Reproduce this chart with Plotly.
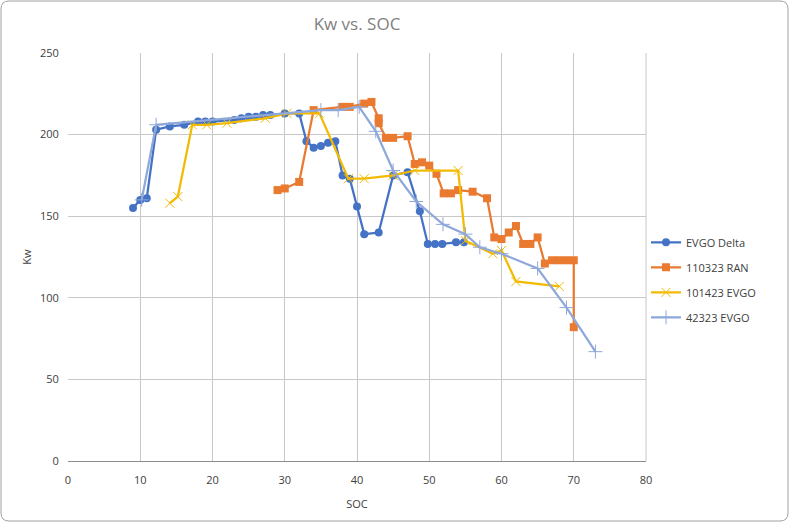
import plotly.graph_objects as go

# EVGO Delta
delta_soc = [9, 10, 10.9, 12.2, 14.1, 16.1, 18, 19, 20, 23, 24, 25, 26, 27, 28, 30, 32,
             33, 34, 35, 36, 37, 38, 39, 40, 41, 43, 45, 47, 48.7, 49.8, 50.8, 51.8, 53.7, 54.8]
delta_kw = [155, 160, 161, 203, 205, 206, 208, 208, 208, 209, 210, 211, 211, 212, 212, 213, 213,
            196, 192, 193, 195, 196, 175, 173, 156, 139, 140, 175, 177, 153, 133, 133, 133, 134, 134]

# 110323 RAN
ran_soc = [29, 30, 32, 34, 38, 39, 41, 42, 43, 43, 44, 45, 47, 48, 49, 50, 51, 52, 53, 54, 56, 58,
           59, 60, 61, 62, 63, 64, 65, 66, 67, 68, 69, 70, 70]
ran_kw = [166, 167, 171, 215, 217, 217, 219, 220, 210, 207, 198, 198, 199, 182, 183, 181, 176, 164,
          164, 166, 165, 161, 137, 136, 140, 144, 133, 133, 137, 121, 123, 123, 123, 123, 82]

# 101423 EVGO
e1014_soc = [14.1, 15.2, 17.2, 19.2, 22, 27.3, 30.3, 34.8, 38.8, 41, 45, 48, 54, 55, 58.8, 60, 62, 68]
e1014_kw = [158, 162, 206, 206, 207, 210, 213, 213, 173, 173, 175, 178, 178, 135, 127, 129, 110, 107]

# 42323 EVGO
e423_soc = [10.2, 12.2, 35, 37.4, 40.3, 42.6, 45, 48.2, 51.9, 55, 57, 60, 65, 69, 73]
e423_kw = [160, 206, 215, 215, 217, 202, 178, 159, 145, 139, 131, 127, 118, 94, 67]

x_ticks = [0, 10, 20, 30, 40, 50, 60, 70, 80]
y_ticks = [0, 50, 100, 150, 200, 250]

fig = go.Figure()
fig.add_trace(go.Scatter(x=delta_soc, y=delta_kw, name="EVGO Delta", mode="lines+markers",
                         legendgroup="a",
                         line=dict(color="#4472C4", width=2.25),
                         marker=dict(symbol="circle", size=8, color="#4472C4")))
fig.add_trace(go.Scatter(x=ran_soc, y=ran_kw, name="110323 RAN", mode="lines+markers",
                         legendgroup="b",
                         line=dict(color="#E97A2F", width=2.25),
                         marker=dict(symbol="square", size=8, color="#E97A2F")))
fig.add_trace(go.Scatter(x=e1014_soc, y=e1014_kw, name="101423 EVGO", mode="lines+markers",
                         legendgroup="c",
                         line=dict(color="#F2BA00", width=2.25),
                         marker=dict(symbol="x-thin-open", size=9, color="#F2BA00",
                                     line=dict(color="#F2BA00", width=1))))
fig.add_trace(go.Scatter(x=e423_soc, y=e423_kw, name="42323 EVGO", mode="lines+markers",
                         legendgroup="d",
                         line=dict(color="#8FA8DA", width=2.25),
                         marker=dict(symbol="cross-thin-open", size=10, color="#8FA8DA",
                                     line=dict(color="#8FA8DA", width=1))))

L, R, T, B = 68, 144, 53, 62
W, H = 790, 523
pw, ph = W - L - R, H - T - B

def px(x):
    return (x - L) / pw

def py(y):
    return (H - B - y) / ph

x0, x1, y0, y1, r = 1, 788, 1, 521, 8
path = (f"M {px(x0 + r)} {py(y0)} L {px(x1 - r)} {py(y0)} "
        f"Q {px(x1)} {py(y0)} {px(x1)} {py(y0 + r)} L {px(x1)} {py(y1 - r)} "
        f"Q {px(x1)} {py(y1)} {px(x1 - r)} {py(y1)} L {px(x0 + r)} {py(y1)} "
        f"Q {px(x0)} {py(y1)} {px(x0)} {py(y1 - r)} L {px(x0)} {py(y0 + r)} "
        f"Q {px(x0)} {py(y0)} {px(x0 + r)} {py(y0)} Z")

fig.update_layout(
    width=W, height=H,
    margin=dict(l=L, r=R, t=T, b=B),
    paper_bgcolor="white", plot_bgcolor="white",
    font=dict(family="Open Sans, Liberation Sans, sans-serif", size=11, color="#404040"),
    title=dict(text="Kw vs. SOC", x=0.5, xref="paper", xanchor="center", y=1 - 24 / H, yanchor="middle",
               font=dict(size=17, color="#7F7F7F")),
    xaxis=dict(range=[0, 80], tickvals=x_ticks, showgrid=True, gridcolor="#C8C8C8", gridwidth=1,
               zeroline=False, showline=True, linecolor="#8C8C8C", linewidth=1,
               ticks="outside", ticklen=9, tickcolor="rgba(0,0,0,0)",
               mirror=False, title=dict(text="SOC", font=dict(size=11, color="#404040"), standoff=14),
               tickfont=dict(size=11, color="#404040")),
    yaxis=dict(range=[0, 250], tickvals=y_ticks, showgrid=True, gridcolor="#C8C8C8", gridwidth=1,
               zeroline=False, showline=False,
               ticks="outside", ticklen=6, tickcolor="rgba(0,0,0,0)",
               title=dict(text="Kw", font=dict(size=11, color="#404040"), standoff=6),
               tickfont=dict(size=11, color="#404040")),
    legend=dict(x=1.0, xanchor="left", y=0.444, yanchor="middle", font=dict(size=11, color="#404040"),
                bgcolor="rgba(0,0,0,0)", traceorder="grouped", tracegroupgap=6, itemwidth=30),
    shapes=[dict(type="path", path=path, xref="paper", yref="paper",
                 line=dict(color="#A0A0A0", width=1), fillcolor="rgba(0,0,0,0)", layer="below"),
            dict(type="line", xref="paper", yref="paper", x0=1, x1=1, y0=0, y1=1,
                 line=dict(color="#C8C8C8", width=1))],
)

fig.write_html("out.html")
